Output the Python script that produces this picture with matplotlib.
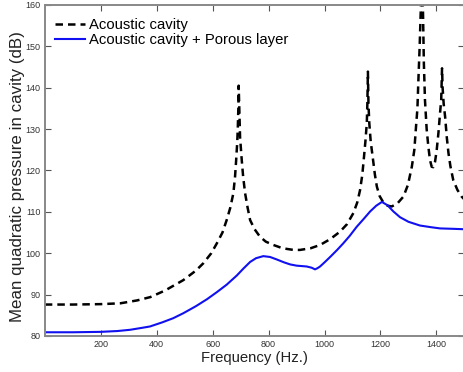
import matplotlib
matplotlib.use('Agg')
import matplotlib.pyplot as plt

# dashed curve: acoustic cavity alone
cav_freq = [0, 100, 200, 270, 330, 377, 430, 495, 540, 567, 595, 615, 635, 650,
            663, 674, 680, 684, 688, 690, 692, 693, 695, 698, 704, 709, 716, 725,
            734, 750, 769, 790, 817, 850, 889, 912, 950, 984, 1020, 1055, 1080,
            1103, 1117, 1127, 1135, 1141, 1146, 1151, 1153, 1155, 1157, 1160,
            1165, 1172, 1180, 1187, 1197, 1210, 1225, 1240, 1260, 1282, 1298,
            1312, 1321, 1327, 1332, 1335, 1340, 1344, 1348, 1352, 1355, 1359,
            1365, 1371, 1377, 1383, 1389, 1395, 1401, 1407, 1413, 1417, 1420,
            1422, 1426, 1431, 1437, 1443, 1450, 1460, 1475, 1490, 1500]
cav_db = [87.6, 87.6, 87.7, 87.9, 88.6, 89.4, 91.0, 93.5, 95.8, 97.6, 100.0,
          102.4, 105.0, 108.0, 111.0, 114.5, 118.5, 122.5, 127.0, 130.6, 135.5,
          140.5, 135.5, 128.0, 122.5, 118.5, 114.5, 111.0, 108.0, 105.8, 104.0,
          102.8, 102.0, 101.2, 100.8, 100.8, 101.2, 102.0, 103.4, 105.2, 107.0,
          109.7, 112.3, 115.3, 119.0, 123.3, 127.0, 131.4, 136.0, 143.9, 136.0,
          131.4, 127.0, 123.3, 119.0, 116.1, 113.8, 112.3, 111.5, 111.3, 112.0,
          113.7, 116.5, 120.9, 125.0, 130.6, 135.0, 141.0, 150.0, 158.8, 170.0,
          158.0, 146.0, 137.0, 130.0, 125.8, 122.5, 120.9, 120.8, 122.1, 125.0,
          129.0, 134.0, 137.0, 144.7, 140.0, 136.0, 133.0, 128.0, 124.2, 121.0,
          117.7, 115.3, 113.7, 113.0]

# solid curve: cavity with porous layer
por_freq = [0, 100, 200, 260, 305, 350, 376, 420, 459, 495, 540, 580, 615, 650,
            686, 710, 734, 755, 781, 805, 829, 855, 877, 900, 936, 954, 966, 975,
            984, 1000, 1020, 1045, 1067, 1090, 1115, 1140, 1163, 1185, 1205,
            1225, 1246, 1270, 1300, 1341, 1380, 1413, 1460, 1500]
por_db = [80.9, 80.9, 81.0, 81.2, 81.5, 82.0, 82.3, 83.3, 84.3, 85.5, 87.2,
          88.9, 90.6, 92.4, 94.6, 96.3, 97.9, 98.8, 99.3, 99.1, 98.5, 97.8,
          97.3, 97.0, 96.8, 96.5, 96.1, 96.4, 96.8, 97.8, 99.1, 100.8, 102.4,
          104.2, 106.4, 108.3, 110.1, 111.5, 112.4, 111.6, 110.1, 108.7, 107.6,
          106.7, 106.3, 106.0, 105.9, 105.8]

x_ticks = [200, 400, 600, 800, 1000, 1200, 1400]
y_ticks = [80, 90, 100, 110, 120, 130, 140, 150, 160]

plt.rcParams['font.family'] = ['Liberation Sans', 'DejaVu Sans']

fig = plt.figure(figsize=(4.64, 3.72), dpi=100)
ax = fig.add_axes([0.0966, 0.0968, 0.9043, 0.8898])

ax.plot(cav_freq, cav_db, color='black', linewidth=1.8, dashes=(3, 2),
        label='Acoustic cavity')
ax.plot(por_freq, por_db, color='#1010f0', linewidth=1.5,
        label='Acoustic cavity + Porous layer')

ax.set_xlim(0, 1500)
ax.set_ylim(80, 160)
ax.set_xticks(x_ticks)
ax.set_yticks(y_ticks)
ax.tick_params(direction='in', length=4, width=0.8, labelsize=6.5,
               colors='#555555', labelcolor='#333333', top=True, right=True,
               pad=3)
for sp in ax.spines.values():
    sp.set_color('#888888')
    sp.set_linewidth(1.4)

ax.set_xlabel('Frequency (Hz.)', fontsize=10.7, color='#222222', labelpad=1)
ax.set_ylabel('Mean quadratic pressure in cavity (dB)', fontsize=12.2,
              color='#222222', labelpad=0)
ax.yaxis.set_label_coords(-0.048, 0.483)

ax.legend(loc='upper left', bbox_to_anchor=(0.024, 0.961), frameon=False,
          fontsize=10.7, borderaxespad=0, borderpad=0, handlelength=2.0,
          handletextpad=0.3, labelspacing=0.1)

fig.savefig('out.png', dpi=100)
